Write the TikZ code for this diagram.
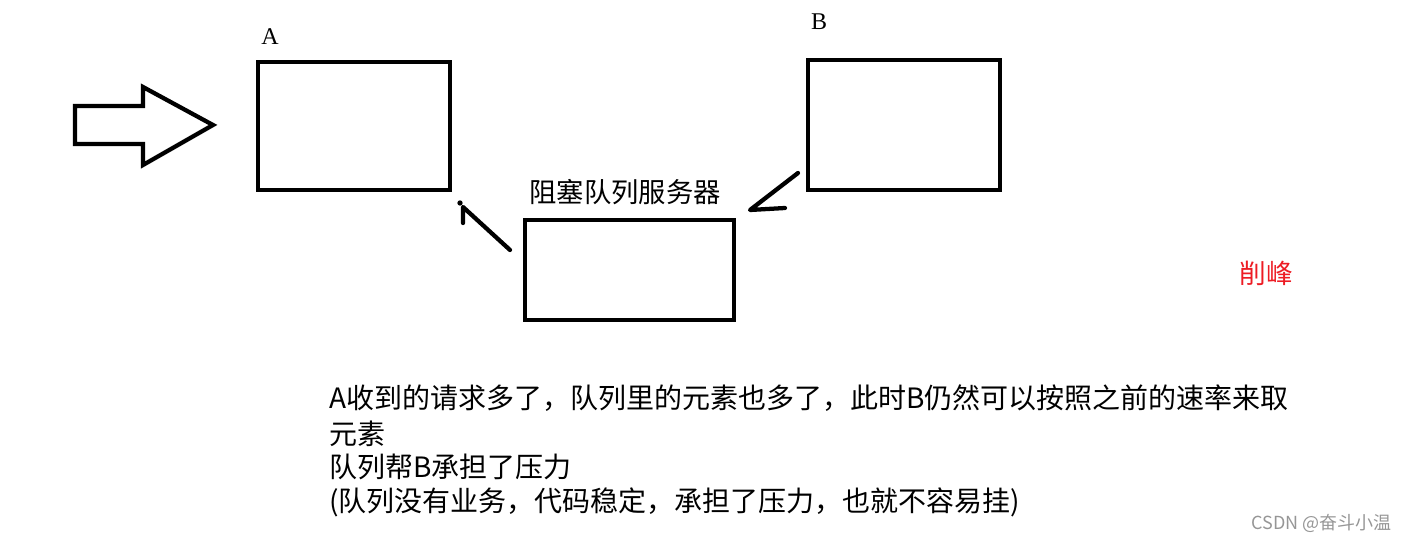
\documentclass[tikz,border=0pt]{standalone}
\usepackage{fontspec}
\newfontfamily\cjk{Noto Sans CJK SC}
\newfontfamily\serif{Liberation Serif}
\definecolor{peakred}{RGB}{237,28,36}
\definecolor{wmgray}{RGB}{150,150,150}
\begin{document}
\begin{tikzpicture}[x=0.75pt,y=-0.75pt,
  box/.style={draw=black, line width=3.2pt, fill=white, inner sep=0pt},
  stroke/.style={draw=black, line width=3.2pt, line cap=round, line join=round},
  body/.style={anchor=west, inner sep=0pt, font=\cjk\fontsize{21}{24}\selectfont},
  letter/.style={inner sep=0pt, font=\serif\fontsize{18}{20}\selectfont}]
\useasboundingbox (0,0) rectangle (1403,541);
% big input arrow
\draw[stroke, line join=miter] (75,106) -- (143,106) -- (143,87) -- (213,125) -- (143,165) -- (143,144) -- (75,144) -- cycle;
% boxes
\node[box, minimum width=144pt, minimum height=96pt] (A) at (354,126) {};
\node[box, minimum width=144pt, minimum height=97.5pt] (B) at (904,125) {};
\node[box, minimum width=156.75pt, minimum height=75pt] (Q) at (629.5,270) {};
% labels
\node[letter] (la) at (270,37) {A};
\node[letter] (lb) at (819,22) {B};
\node[inner sep=0pt, font=\cjk\fontsize{20.5}{24}\selectfont] (lq) at (625,192) {阻塞队列服务器};
\node[inner sep=0pt, text=peakred, font=\cjk\fontsize{20}{24}\selectfont] (peak) at (1266,273) {削峰};
% hand-drawn arrow queue -> A
\coordinate (qa1) at (510,250);
\coordinate (qa2) at (463,207);
\coordinate (qa3) at (463,223);
\draw[stroke] (qa1) -- (qa2) -- (qa3);
\fill (460,203) circle (2pt);
% hand-drawn arrow B -> queue
\coordinate (bq1) at (798,173);
\coordinate (bq2) at (750,210);
\coordinate (bq3) at (785,208);
\draw[stroke] (bq1) -- (bq2) -- (bq3);
% text block
\node[body] (t1) at (329,398) {A收到的请求多了，队列里的元素也多了，此时B仍然可以按照之前的速率来取};
\node[body] (t2) at (329,434) {元素};
\node[body] (t3) at (329,467) {队列帮B承担了压力};
\node[body] (t4) at (329,502) {(队列没有业务，代码稳定，承担了压力，也就不容易挂)};
% watermark
\node[inner sep=0pt, anchor=west, text=wmgray, font=\cjk\fontsize{13.5}{15}\selectfont] (wm) at (1251,523) {CSDN @奋斗小温};
\end{tikzpicture}
\end{document}
